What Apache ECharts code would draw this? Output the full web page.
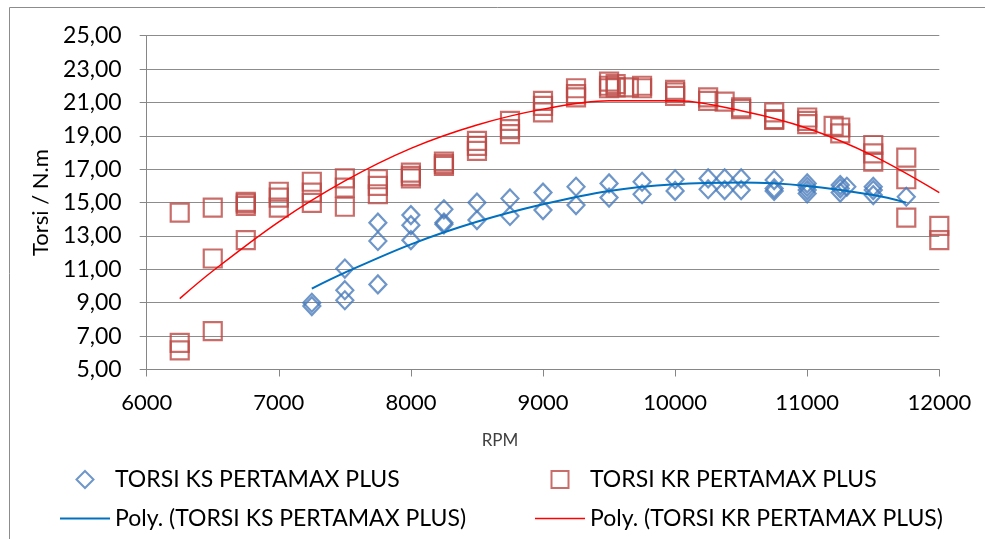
<!DOCTYPE html>
<html>
<head>
<meta charset="utf-8">
<script src="https://cdn.jsdelivr.net/npm/echarts@6/dist/echarts.min.js"></script>
<style>
html,body{margin:0;padding:0;background:#fff;}
#chart{width:985px;height:539px;}
</style>
</head>
<body>
<div id="chart"></div>
<script>
// ---- data ----
var ksRpm   = [7250,7250, 7500,7500,7500, 7750,7750,7750, 8000,8000,8000, 8250,8250,8250, 8500,8500, 8750,8750, 9000,9000, 9250,9250, 9500,9500, 9750,9750, 10000,10000, 10250,10250, 10375,10375, 10500,10500, 10750,10750,10750, 11000,11000,11000,11000, 11250,11250,11250, 11300, 11500,11500,11500, 11750];
var ksTorsi = [9.0,8.8, 11.05,9.75,9.15, 13.8,12.7,10.1, 14.25,13.65,12.75, 14.6,13.8,13.7, 15.0,13.95, 15.25,14.2, 15.6,14.55, 15.95,14.85, 16.15,15.3, 16.25,15.5, 16.4,15.7, 16.45,15.8, 16.45,15.75, 16.45,15.75, 16.35,15.85,15.7, 16.15,15.95,15.75,15.55, 16.05,15.85,15.6, 15.95, 15.95,15.75,15.45, 15.35];

var krRpm   = [6250,6250,6250, 6500,6500,6500, 6750,6750,6750,6750, 7000,7000,7000, 7250,7250,7250, 7500,7500,7500, 7750,7750,7750, 8000,8000,8000, 8250,8250,8250, 8500,8500,8500, 8750,8750,8750, 9000,9000,9000, 9250,9250,9250, 9500,9500,9500, 9550,9550, 9650, 9750,9750, 10000,10000,10000, 10250,10250, 10375, 10500,10500, 10750,10750,10750, 11000,11000,11000, 11200, 11250,11250, 11500,11500,11500, 11750,11750,11750, 12000,12000];
var krTorsi = [14.4,6.6,6.15, 14.7,11.65,7.3, 15.05,14.95,14.8,12.75, 15.65,15.3,14.7, 16.25,15.6,14.98, 16.45,15.9,14.75, 16.4,16.0,15.5, 16.8,16.6,16.45, 17.45,17.3,17.2, 18.7,18.4,18.1, 19.9,19.4,19.1, 21.1,20.8,20.4, 21.85,21.5,21.3, 22.25,22.0,21.85, 22.1,21.9, 21.9, 22.0,21.85, 21.75,21.6,21.4, 21.3,21.1, 21.05, 20.7,20.6, 20.4,20.0,19.95, 20.1,19.9,19.7, 19.6, 19.5,19.15, 18.45,17.95,17.45, 17.7,16.4,14.1, 13.6,12.75];

// trend lines
var ksPolyRpm   = [7250, 7500, 8000, 8500, 9000, 9500, 10000, 10500, 11000, 11500, 11750];
var ksPolyTorsi = [9.85, 10.8, 12.5, 13.85, 14.9, 15.7, 16.1, 16.2, 16.0, 15.45, 15.0];
var krPolyRpm   = [6250, 6500, 7000, 7500, 8000, 8500, 9000, 9500, 10000, 10500, 11000, 11500, 12000];
var krPolyTorsi = [9.25, 10.9, 13.85, 16.3, 18.25, 19.65, 20.6, 21.1, 21.1, 20.5, 19.45, 17.8, 15.6];

var seriesNames = ['TORSI KS PERTAMAX PLUS','TORSI KR PERTAMAX PLUS','Poly. (TORSI KS PERTAMAX PLUS)','Poly. (TORSI KR PERTAMAX PLUS)'];
var xTitle = 'RPM';
var yTitle = 'Torsi / N.m';

function zip(a, b){ return a.map(function(v, i){ return [v, b[i]]; }); }

var FONT = 'Lato';
var chart = echarts.init(document.getElementById('chart'), null, {renderer:'canvas'});
var option = {
  backgroundColor: '#ffffff',
  animation: false,
  grid: {left: 146.7, right: 45.7, top: 35.7, bottom: 169.5, containLabel: false},
  xAxis: {
    type: 'value', min: 6000, max: 12000, interval: 1000,
    axisLine: {show: true, lineStyle: {color: '#868686', width: 1}},
    axisTick: {show: true, inside: false, length: 7, lineStyle: {color: '#868686'}},
    axisLabel: {color: '#000', fontFamily: FONT, fontSize: 22, margin: 22,
      formatter: function(v){ return String(v); }},
    splitLine: {show: false}
  },
  yAxis: {
    type: 'value', min: 5, max: 25, interval: 2,
    name: yTitle, nameLocation: 'middle', nameGap: 90,
    nameTextStyle: {color: '#000', fontFamily: FONT, fontSize: 22},
    axisLine: {show: true, lineStyle: {color: '#868686', width: 1}},
    axisTick: {show: true, inside: false, length: 7, lineStyle: {color: '#868686'}},
    axisLabel: {color: '#000', fontFamily: FONT, fontSize: 23, margin: 25,
      formatter: function(v){ return v.toFixed(2).replace('.', ','); }},
    splitLine: {show: true, lineStyle: {color: '#8c8c8c', width: 1}}
  },
  legend: [
    {
      orient: 'vertical', left: 60, top: 467, padding: 0, itemGap: 14,
      itemWidth: 50, itemHeight: 17,
      textStyle: {color: '#000', fontFamily: FONT, fontSize: 23, lineHeight: 25},
      data: [
        {name: seriesNames[0], icon: 'path://M5,0L10,5L5,10L0,5Z'},
        {name: seriesNames[2], icon: 'path://M0,0L50,0L50,2L0,2Z'}
      ]
    },
    {
      orient: 'vertical', left: 535, top: 467, padding: 0, itemGap: 14,
      itemWidth: 50, itemHeight: 17,
      textStyle: {color: '#000', fontFamily: FONT, fontSize: 23, lineHeight: 25},
      data: [
        {name: seriesNames[1], icon: 'path://M0,0L10,0L10,10L0,10Z'},
        {name: seriesNames[3], icon: 'path://M0,0L50,0L50,1.6L0,1.6Z'}
      ]
    }
  ],
  graphic: [
    {type: 'rect', silent: true, z: -1,
      shape: {x: 9.5, y: 7.5, width: 1000, height: 600},
      style: {fill: 'none', stroke: '#8c8c8c', lineWidth: 1}},
    {type: 'text', silent: true, x: 500, y: 441,
      style: {text: xTitle, textAlign: 'center', textVerticalAlign: 'middle',
        fontFamily: FONT, fontSize: 17, fill: '#404040'}}
  ],
  series: [
    {
      name: seriesNames[0], type: 'scatter', symbol: 'diamond', symbolSize: [17, 18],
      data: zip(ksRpm, ksTorsi),
      itemStyle: {color: 'rgba(0,0,0,0)', borderColor: '#4A7CBA', borderWidth: 2.2},
      z: 3
    },
    {
      name: seriesNames[1], type: 'scatter', symbol: 'rect', symbolSize: 18,
      data: zip(krRpm, krTorsi),
      itemStyle: {color: 'rgba(0,0,0,0)', borderColor: '#BC4845', borderWidth: 2.2},
      z: 2
    },
    {
      name: seriesNames[2], type: 'line', smooth: 0.35, symbol: 'none', showSymbol: false,
      data: zip(ksPolyRpm, ksPolyTorsi),
      lineStyle: {color: '#0070C0', width: 2},
      itemStyle: {color: '#0070C0'},
      z: 4
    },
    {
      name: seriesNames[3], type: 'line', smooth: 0.35, symbol: 'none', showSymbol: false,
      data: zip(krPolyRpm, krPolyTorsi),
      lineStyle: {color: '#FF0000', width: 1.5},
      itemStyle: {color: '#FF0000'},
      z: 4
    }
  ]
};
chart.setOption(option);
</script>
</body>
</html>
